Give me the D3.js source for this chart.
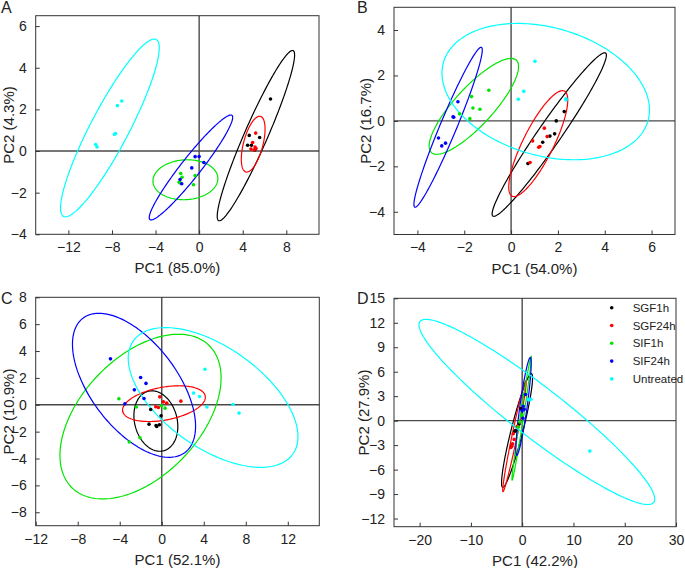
<!DOCTYPE html>
<html>
<head>
<meta charset="utf-8">
<script src="https://cdn.jsdelivr.net/npm/d3@7"></script>
<style>
  body { margin: 0; background: #fff; }
  svg text { font-family: "Liberation Sans", Arial, sans-serif; }
</style>
</head>
<body>
<svg id="chart" width="685" height="568"></svg>
<script>
// groups and their legend names
var groups = ["SGF1h", "SGF24h", "SIF1h", "SIF24h", "Untreated"];

// PCA scores: [group, PC1, PC2]
var scoresA = [
  ["SGF1h", 6.55, 2.5], ["SGF1h", 4.6, 0.75], ["SGF1h", 5.55, 0.65], ["SGF1h", 4.45, 0.28], ["SGF1h", 4.8, 0.28], ["SGF1h", 5.1, 0.05],
  ["SGF24h", 5.19, 0.86], ["SGF24h", 4.91, 0.41], ["SGF24h", 5.13, 0.19], ["SGF24h", 4.76, 0.1], ["SGF24h", 5.04, 0.05], ["SGF24h", 5.22, 0.12],
  ["SIF1h", -1.69, -1.08], ["SIF1h", -1.57, -1.26], ["SIF1h", -0.37, -1.18], ["SIF1h", -1.84, -1.5], ["SIF1h", -1.75, -1.53], ["SIF1h", -0.52, -1.62],
  ["SIF24h", -0.37, -0.27], ["SIF24h", 0.0, -0.26], ["SIF24h", 0.43, -0.55], ["SIF24h", -0.68, -0.81], ["SIF24h", -1.75, -1.37], ["SIF24h", -1.6, -1.57],
  ["Untreated", -7.1, 2.4], ["Untreated", -7.5, 2.18], ["Untreated", -7.68, 0.84], ["Untreated", -7.77, 0.8], ["Untreated", -9.49, 0.31], ["Untreated", -9.37, 0.19]
];
var scoresB = [
  ["SGF1h", 2.27, 0.41], ["SGF1h", 1.93, 0.0], ["SGF1h", 1.86, -0.57], ["SGF1h", 1.66, -0.67], ["SGF1h", 1.35, -0.94], ["SGF1h", 0.72, -1.88],
  ["SGF24h", 1.42, -0.32], ["SGF24h", 0.92, -0.88], ["SGF24h", 1.54, -0.69], ["SGF24h", 1.18, -1.16], ["SGF24h", 1.23, -1.13], ["SGF24h", 0.81, -1.83],
  ["SIF1h", -0.95, 1.35], ["SIF1h", -1.69, 1.07], ["SIF1h", -1.63, 0.57], ["SIF1h", -1.33, 0.51], ["SIF1h", -2.2, 0.31], ["SIF1h", -1.76, 0.1],
  ["SIF24h", -2.27, 0.84], ["SIF24h", -2.48, 0.18], ["SIF24h", -2.45, 0.16], ["SIF24h", -3.1, -0.75], ["SIF24h", -2.8, -0.98], ["SIF24h", -2.96, -1.1],
  ["Untreated", 1.02, 2.62], ["Untreated", 0.54, 1.3], ["Untreated", 0.31, 0.95], ["Untreated", 2.34, 0.97], ["Untreated", 2.35, 0.92]
];
var scoresC = [
  ["SGF1h", -1.05, -0.35], ["SGF1h", -0.06, -0.82], ["SGF1h", -1.21, -1.44], ["SGF1h", -0.54, -1.54], ["SGF1h", -0.22, -1.49], ["SGF1h", -0.48, -1.61],
  ["SGF24h", -0.19, 0.59], ["SGF24h", 1.82, 0.27], ["SGF24h", 0.16, 0.22], ["SGF24h", 0.48, 0.12], ["SGF24h", -0.57, -0.15], ["SGF24h", -0.32, -0.2],
  ["SIF1h", -4.08, 0.45], ["SIF1h", -2.42, -0.17], ["SIF1h", -3.09, -2.77], ["SIF1h", -2.07, -2.45], ["SIF1h", -0.03, -0.07], ["SIF1h", 0.32, -0.25],
  ["SIF24h", -4.88, 3.42], ["SIF24h", -2.01, 2.03], ["SIF24h", -1.5, 1.59], ["SIF24h", -2.61, 1.11], ["SIF24h", -1.69, 0.47], ["SIF24h", -3.51, 0.07],
  ["Untreated", 4.11, 2.65], ["Untreated", 3.03, 0.87], ["Untreated", 3.6, 0.62], ["Untreated", 4.3, -0.17], ["Untreated", 6.79, 0.02], ["Untreated", 7.36, -0.62]
];
var scoresD = [
  ["SGF1h", -0.26, 1.48], ["SGF1h", -1.43, -1.31], ["SGF1h", -1.3, -1.2], ["SGF1h", -2.08, -3.11], ["SGF1h", -0.6, -0.4],
  ["SGF24h", -0.97, -0.7], ["SGF24h", -1.56, -2.3], ["SGF24h", -1.88, -2.83], ["SGF24h", -2.0, -3.11], ["SGF24h", -2.2, -3.28], ["SGF24h", -1.75, -1.6],
  ["SIF1h", 0.39, 3.24], ["SIF1h", 0.06, 1.89], ["SIF1h", -0.13, 0.66], ["SIF1h", -0.45, -0.16], ["SIF1h", -0.78, -0.78],
  ["SIF24h", 0.65, 3.2], ["SIF24h", 0.19, 1.76], ["SIF24h", 0.39, 1.39], ["SIF24h", 0.0, 1.2], ["SIF24h", 0.13, 0.29],
  ["Untreated", 1.17, 2.62], ["Untreated", 1.69, 2.62], ["Untreated", 1.4, 2.55], ["Untreated", 13.2, -3.73]
];

// confidence ellipses: [group, centre PC1, centre PC2, half-range PC1, half-range PC2, correlation]
var ellipsesA = [
  ["SGF1h", 5.21, 0.74, 3.55, 4.09, 0.946],
  ["SGF24h", 4.96, 0.33, 1.09, 1.34, 0.54],
  ["SIF1h", -1.26, -1.38, 2.98, 0.96, 0.06],
  ["SIF24h", -0.75, -0.79, 3.83, 2.52, 0.955],
  ["Untreated", -8.19, 1.11, 4.53, 4.27, 0.9]
];
var ellipsesB = [
  ["SGF1h", 1.63, -0.6, 2.44, 3.6, 0.97],
  ["SGF24h", 1.16, -1.0, 1.26, 2.33, 0.82],
  ["SIF1h", -1.59, 0.64, 1.91, 2.11, 0.83],
  ["SIF24h", -2.69, -0.28, 1.46, 3.52, 0.965],
  ["Untreated", 1.48, 1.29, 4.43, 3.0, -0.27]
];
var ellipsesC = [
  ["SGF1h", -0.56, -1.21, 2.09, 2.25, -0.18],
  ["SGF24h", 0.21, 0.085, 3.94, 1.33, 0.36],
  ["SIF1h", -2.02, -0.88, 7.67, 6.13, 0.47],
  ["SIF24h", -2.64, 1.45, 5.86, 5.36, -0.57],
  ["Untreated", 4.89, 0.545, 8.08, 5.2, -0.56]
];
var ellipsesD = [
  ["SGF1h", -1.0, -1.2, 3.02, 6.97, 0.92],
  ["SGF24h", -1.5, -1.9, 2.3, 6.8, 0.975],
  ["SIF1h", -0.1, 0.3, 1.9, 7.6, 0.985],
  ["SIF24h", 0.26, 1.74, 1.5, 6.0, 0.88],
  ["Untreated", 2.86, 1.07, 22.99, 11.35, -0.94]
];

// axis tick values and titles
var ticksA = { x: [-12, -8, -4, 0, 4, 8], y: [-4, -2, 0, 2, 4, 6] };
var ticksB = { x: [-4, -2, 0, 2, 4, 6], y: [-4, -2, 0, 2, 4] };
var ticksC = { x: [-12, -8, -4, 0, 4, 8, 12], y: [-8, -6, -4, -2, 0, 2, 4, 6, 8] };
var ticksD = { x: [-20, -10, 0, 10, 20, 30], y: [-12, -9, -6, -3, 0, 3, 6, 9, 12, 15] };
var titlesX = ["PC1 (85.0%)", "PC1 (54.0%)", "PC1 (52.1%)", "PC1 (42.2%)"];
var titlesY = ["PC2 (4.3%)", "PC2 (16.7%)", "PC2 (10.9%)", "PC2 (27.9%)"];

var color = d3.scaleOrdinal()
  .domain(groups)
  .range(["#000000", "#ff0000", "#00e600", "#0000ff", "#00ffff"]);

var svg = d3.select("#chart");

var drawPanel = function(c){
  var x = d3.scaleLinear().domain(c.xd).range([c.l, c.r]);
  var y = d3.scaleLinear().domain(c.yd).range([c.b, c.t]);
  var g = svg.append("g");

  g.append("clipPath").attr("id", "clip" + c.id)
    .append("rect").attr("x", c.l).attr("y", c.t)
    .attr("width", c.r - c.l).attr("height", c.b - c.t);

  // zero lines
  g.append("line")
    .attr("x1", x(0)).attr("x2", x(0)).attr("y1", c.t).attr("y2", c.b)
    .attr("stroke", "#4a4a4a").attr("stroke-width", 1.4);
  g.append("line")
    .attr("x1", c.l).attr("x2", c.r).attr("y1", y(0)).attr("y2", y(0))
    .attr("stroke", "#4a4a4a").attr("stroke-width", 1.4);

  // ellipses
  var ts = d3.range(0, 2 * Math.PI + 0.001, Math.PI / 90);
  var line = d3.line();
  g.append("g").attr("clip-path", "url(#clip" + c.id + ")")
    .selectAll("path").data(c.ellipses).enter()
    .append("path")
    .attr("d", function(e){
      var k = Math.sqrt(1 - e[5] * e[5]);
      return line(ts.map(function(t){
        return [x(e[1] + e[3] * Math.cos(t)),
                y(e[2] + e[4] * (e[5] * Math.cos(t) + k * Math.sin(t)))];
      }));
    })
    .attr("fill", "none")
    .attr("stroke", function(e){ return color(e[0]); })
    .attr("stroke-width", 1.2);

  // points
  g.append("g").selectAll("circle").data(c.scores).enter()
    .append("circle")
    .attr("cx", function(d){ return x(d[1]); })
    .attr("cy", function(d){ return y(d[2]); })
    .attr("r", 1.8)
    .attr("fill", function(d){ return color(d[0]); });

  // frame
  g.append("rect")
    .attr("x", c.l).attr("y", c.t)
    .attr("width", c.r - c.l).attr("height", c.b - c.t)
    .attr("fill", "none").attr("stroke", "#333").attr("stroke-width", 1);

  // axes, ticks inward
  var xa = g.append("g").attr("transform", "translate(0," + c.b + ")")
    .call(d3.axisBottom(x).tickValues(c.ticks.x).tickSizeInner(-4).tickSizeOuter(0).tickPadding(8));
  var ya = g.append("g").attr("transform", "translate(" + c.l + ",0)")
    .call(d3.axisLeft(y).tickValues(c.ticks.y).tickSizeInner(-4).tickSizeOuter(0).tickPadding(9));
  [xa, ya].forEach(function(a){
    a.select(".domain").remove();
    a.selectAll("line").attr("stroke", "#333");
    a.selectAll("text").attr("font-size", 14).attr("fill", "#222")
      .style("font-family", "Liberation Sans, Arial, sans-serif");
  });

  g.append("text")
    .attr("x", (c.l + c.r) / 2).attr("y", c.b + 39)
    .attr("text-anchor", "middle").attr("font-size", 15).attr("fill", "#222")
    .text(c.xTitle);
  g.append("text")
    .attr("transform", "translate(" + c.yt + "," + (c.t + c.b) / 2 + ") rotate(-90)")
    .attr("text-anchor", "middle").attr("font-size", 15).attr("fill", "#222")
    .text(c.yTitle);
  g.append("text")
    .attr("x", c.lx).attr("y", c.ly)
    .attr("font-size", 16).attr("fill", "#222")
    .text(c.id);
};

drawPanel({id: "A", l: 35.7, r: 319, t: 15.7, b: 234.3, xd: [-15, 11], yd: [-4, 6.5],
  ticks: ticksA, scores: scoresA, ellipses: ellipsesA, xTitle: titlesX[0], yTitle: titlesY[0], yt: 14, lx: 1, ly: 13});
drawPanel({id: "B", l: 394, r: 675, t: 7.3, b: 234.5, xd: [-5, 7], yd: [-5, 5],
  ticks: ticksB, scores: scoresB, ellipses: ellipsesB, xTitle: titlesX[1], yTitle: titlesY[1], yt: 371, lx: 357, ly: 13});
drawPanel({id: "C", l: 35.7, r: 319.3, t: 297.3, b: 525.7, xd: [-12, 15], yd: [-9, 8],
  ticks: ticksC, scores: scoresC, ellipses: ellipsesC, xTitle: titlesX[2], yTitle: titlesY[2], yt: 14, lx: 1, ly: 304});
drawPanel({id: "D", l: 394, r: 676, t: 298.3, b: 526.7, xd: [-25, 30], yd: [-13, 15],
  ticks: ticksD, scores: scoresD, ellipses: ellipsesD, xTitle: titlesX[3], yTitle: titlesY[3], yt: 369, lx: 357, ly: 304});

// legend in panel D
var legend = svg.append("g").selectAll("g").data(groups).enter()
  .append("g")
  .attr("transform", function(d, i){ return "translate(611.7," + (307.7 + i * 17.8) + ")"; });
legend.append("circle").attr("r", 1.8).attr("fill", function(d){ return color(d); });
legend.append("text")
  .attr("x", 21).attr("y", 4)
  .attr("font-size", 11.5).attr("fill", "#222")
  .text(function(d){ return d; });
</script>
</body>
</html>
